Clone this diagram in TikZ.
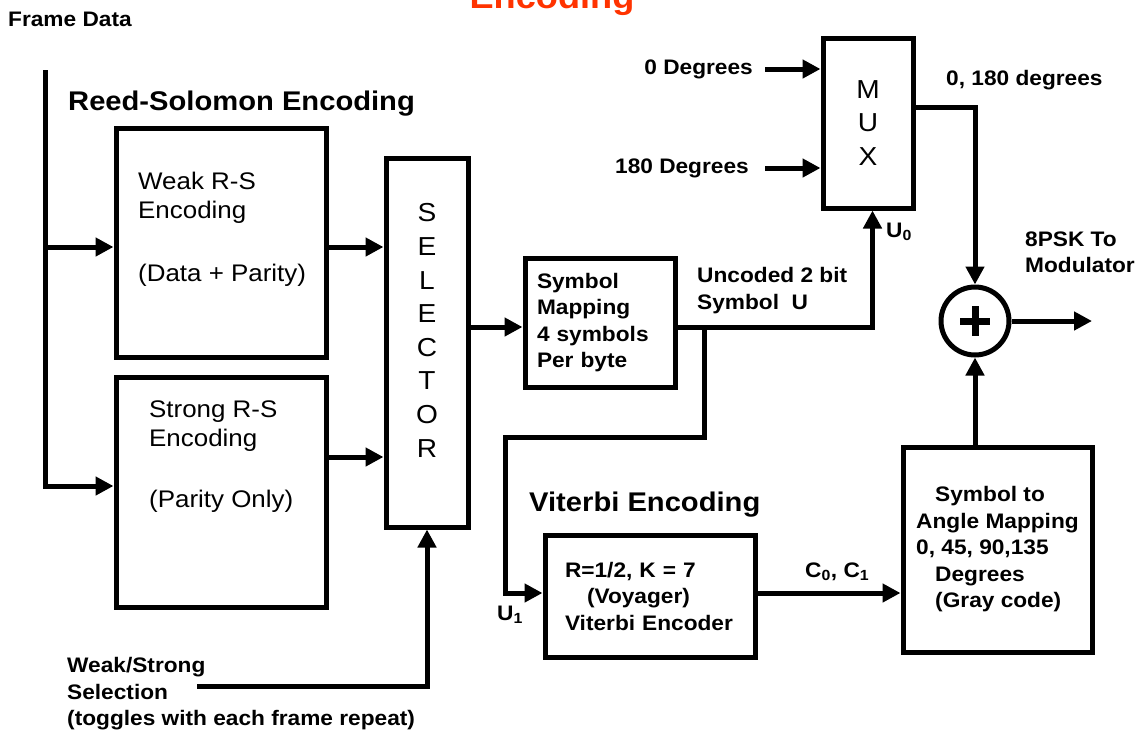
\documentclass[tikz,border=0pt]{standalone}
\usepackage{fontspec}
\setmainfont[FakeStretch=1.08]{Liberation Sans}
\usepackage{xcolor}
\definecolor{titlered}{HTML}{FF3300}
\usepackage{tikz}
\usetikzlibrary{positioning,calc,arrows.meta}

\begin{document}
\begin{tikzpicture}[x=1pt,y=-1pt,
  blk/.style={draw,line width=5pt,inner sep=0pt},
  regtxt/.style={font=\fontsize{24}{29}\selectfont,align=left,inner sep=0pt},
  boldtxt/.style={font=\fontsize{21}{26.5}\selectfont\bfseries,align=left,inner sep=0pt},
  headtxt/.style={font=\fontsize{27}{32}\selectfont\bfseries,inner sep=0pt},
  vtxt/.style={font=\fontsize{26}{33.6}\selectfont,align=center,inner sep=0pt},
  ln/.style={line width=5pt},
  arr/.style={ln,-{Triangle[length=18pt,width=18pt]}}]
  \useasboundingbox (0,0) rectangle (1144,732);
  \clip (0,0) rectangle (1144,732);

  % headings
  \node[font=\fontsize{33.5}{40}\selectfont\bfseries,text=titlered,anchor=base,inner sep=0pt] (title) at (552,8) {Encoding};
  \node[boldtxt,anchor=base west] (fdata) at (8,26) {Frame Data};
  \node[headtxt,anchor=base west] (rshead) at (68,110) {Reed-Solomon Encoding};
  \node[headtxt,anchor=base west] (vithead) at (529,511) {Viterbi Encoding};

  % blocks
  \node[blk,minimum width=210pt,minimum height=229pt] (weak) at (221,242.5) {};
  \node[regtxt,anchor=north west] (weaktxt) at (138,171.5) {Weak R-S\\Encoding\\[34pt](Data + Parity)};
  \node[blk,minimum width=210pt,minimum height=230pt] (strong) at (221,492) {};
  \node[regtxt,anchor=north west] (strongtxt) at (149,400.5) {Strong R-S\\Encoding\\[32pt](Parity Only)};
  \node[blk,minimum width=82pt,minimum height=369pt] (sel) at (427,342.5) {};
  \node[vtxt] (seltxt) at ([yshift=12pt]sel.center) {S\\E\\L\\E\\C\\T\\O\\R};
  \node[blk,boldtxt,minimum width=150pt,minimum height=129pt,text width=126pt] (sym) at (600,322.5) {Symbol\\Mapping\\4 symbols\\Per byte};
  \node[blk,vtxt,minimum width=90pt,minimum height=170pt] (mux) at (868,123) {M\\U\\X};
  \node[blk,boldtxt,minimum width=210pt,minimum height=122pt,text width=170pt] (vit) at (650,596) {R=1/2, K = 7\\\hspace*{22pt}(Voyager)\\Viterbi Encoder};
  \node[blk,boldtxt,minimum width=189pt,minimum height=205pt] (ang) at (997.5,549.5) {\hspace*{19pt}Symbol to\\Angle Mapping\\0, 45, 90,135\\\hspace*{19pt}Degrees\\\hspace*{19pt}(Gray code)};
  \node[circle,draw,line width=5pt,minimum size=68pt,inner sep=0pt] (sum) at (975,321) {};
  \draw[line width=7pt] ($(sum)+(-15,0)$) -- ($(sum)+(15,0)$) ($(sum)+(0,-15)$) -- ($(sum)+(0,15)$);

  % R-S part
  \coordinate (fd) at (45,70);
  \coordinate (wkin) at ([yshift=-4.5pt]weak.west);
  \coordinate (stin) at ([yshift=6pt]strong.west);
  \coordinate (stout) at ([yshift=35pt]strong.east);
  \draw[arr] (fd) |- (stin);
  \draw[arr] (fd |- wkin) -- (wkin);
  \draw[arr] (wkin -| weak.east) -- (wkin -| sel.west);
  \draw[arr] (stout) -- (stout -| sel.west);
  \coordinate (wsin) at (197,686);
  \draw[arr] (wsin) -| (sel.south);
  \node[boldtxt,anchor=north west] (wslbl) at (67,657.5) {Weak/Strong\\Selection\\(toggles with each frame repeat)};

  % symbol mapping and mux
  \coordinate (symin) at ([yshift=-4.5pt]sym.west);
  \draw[arr] (symin -| sel.east) -- (symin);
  \draw[arr] (symin -| sym.east) -| ([xshift=4.5pt]mux.south);
  \node[boldtxt,anchor=north west] (unclbl) at (697,267.5) {Uncoded 2 bit\\Symbol~~U};
  \node[boldtxt,anchor=base west] (u0lbl) at (886,237.5) {U\textsubscript{0}};
  \foreach \nm/\yy/\gap/\txt in {dz/69/12/0 Degrees,dh/168/16/180 Degrees} {
    \coordinate (\nm) at (765,\yy);
    \draw[arr] (\nm) -- (\nm -| mux.west);
    \node[boldtxt,left=\gap pt of \nm] (\nm-lbl) {\txt};
  }
  \draw[arr] ([yshift=16pt]mux.east) -| (sum.north);
  \node[boldtxt,anchor=base west] (degl) at (946,85) {0, 180 degrees};

  % viterbi branch
  \coordinate (br) at (704,327);
  \coordinate (uone) at (505,437);
  \draw[arr] (br) |- (uone) |- ([yshift=3pt]vit.west);
  \node[boldtxt,anchor=base west] (u1lbl) at (497,620) {U\textsubscript{1}};
  \coordinate (c01) at ([yshift=3pt]vit.east);
  \draw[arr] (c01) -- (c01 -| ang.west);
  \node[boldtxt,anchor=base west] (c01lbl) at (805,577) {C\textsubscript{0}, C\textsubscript{1}};

  % output
  \draw[arr] (sum |- ang.north) -- (sum.south);
  \coordinate (out) at (1092,321);
  \draw[arr] (sum.east) -- (out);
  \node[boldtxt,anchor=north west] (modlbl) at (1025,231.5) {8PSK To\\Modulator};
\end{tikzpicture}
\end{document}
